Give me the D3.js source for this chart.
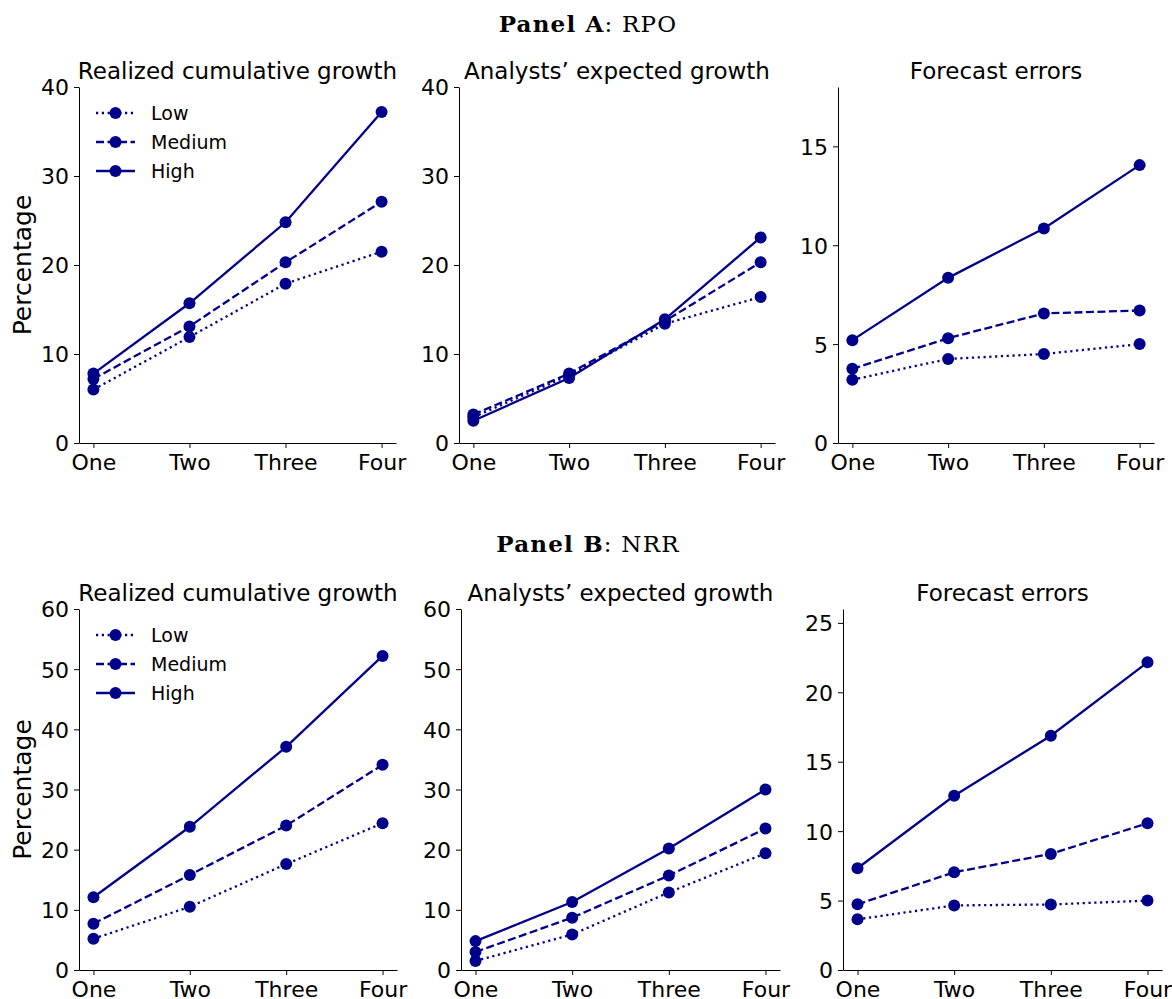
<!DOCTYPE html>
<html lang="en">
<head>
  <meta charset="UTF-8" />
  <title>RPO / NRR growth panels</title>
  <script src="https://d3js.org/d3.v7.min.js"></script>
  <style>
    body { margin: 0; background: #fff; font-family: "DejaVu Sans", sans-serif; }
    svg text { fill: #000; }
    .axis path, .axis line { stroke: #000; stroke-width: 1; }
    .axis text { font-size: 22px; font-family: "DejaVu Sans", sans-serif; }
    .title { font-size: 23px; }
    .panel { font-family: "DejaVu Serif", serif; font-size: 23px; letter-spacing: 1.2px; }
    .legend text { font-size: 19px; }
  </style>
</head>
<body>
<svg id="fig" width="1172" height="999"></svg>

<script>
const periods = ["One", "Two", "Three", "Four"];
const groups = ["Low", "Medium", "High"];
const subTitles = ["Realized cumulative growth", "Analysts\u2019 expected growth", "Forecast errors"];

// Panel A: RPO
const rpoRealizedLow = [6.0, 11.9, 17.9, 21.5];
const rpoRealizedMed = [7.2, 13.1, 20.3, 27.1];
const rpoRealizedHigh = [7.8, 15.7, 24.8, 37.2];
const rpoExpectedLow = [2.9, 7.6, 13.4, 16.4];
const rpoExpectedMed = [3.2, 7.8, 13.7, 20.3];
const rpoExpectedHigh = [2.5, 7.3, 13.9, 23.1];
const rpoErrorLow = [3.2, 4.25, 4.5, 5.0];
const rpoErrorMed = [3.75, 5.3, 6.55, 6.7];
const rpoErrorHigh = [5.2, 8.35, 10.85, 14.05];

// Panel B: NRR
const nrrRealizedLow = [5.2, 10.5, 17.6, 24.4];
const nrrRealizedMed = [7.7, 15.8, 24.0, 34.1];
const nrrRealizedHigh = [12.1, 23.8, 37.1, 52.2];
const nrrExpectedLow = [1.5, 5.9, 12.9, 19.4];
const nrrExpectedMed = [3.0, 8.7, 15.7, 23.5];
const nrrExpectedHigh = [4.8, 11.3, 20.2, 30.0];
const nrrErrorLow = [3.65, 4.65, 4.72, 5.0];
const nrrErrorMed = [4.73, 7.04, 8.36, 10.57];
const nrrErrorHigh = [7.33, 12.55, 16.87, 22.16];

const rpoMax = [40, 40, 18], rpoTicks = [[0, 10, 20, 30, 40], [0, 10, 20, 30, 40], [0, 5, 10, 15]];
const nrrMax = [60, 60, 26], nrrTicks = [[0, 10, 20, 30, 40, 50, 60], [0, 10, 20, 30, 40, 50, 60], [0, 5, 10, 15, 20, 25]];

const color = "#00008b";
const dashes = { Low: "2.2,3.6", Medium: "8,3.5", High: null };

const svg = d3.select("#fig");

// frame boxes of each subplot, read from the layout
const rows = [
  {
    head: ["Panel A", ": RPO"], headY: 32,
    top: 87, bottom: 443,
    lefts: [79, 459, 838], rights: [396, 775, 1154],
    series: [
      [rpoRealizedLow, rpoRealizedMed, rpoRealizedHigh],
      [rpoExpectedLow, rpoExpectedMed, rpoExpectedHigh],
      [rpoErrorLow, rpoErrorMed, rpoErrorHigh]
    ],
    max: rpoMax, ticks: rpoTicks
  },
  {
    head: ["Panel B", ": NRR"], headY: 552,
    top: 609, bottom: 970,
    lefts: [79, 461, 843], rights: [397, 780, 1162],
    series: [
      [nrrRealizedLow, nrrRealizedMed, nrrRealizedHigh],
      [nrrExpectedLow, nrrExpectedMed, nrrExpectedHigh],
      [nrrErrorLow, nrrErrorMed, nrrErrorHigh]
    ],
    max: nrrMax, ticks: nrrTicks
  }
];

rows.forEach(row => {
  const head = svg.append("text")
    .attr("class", "panel")
    .attr("x", 588)
    .attr("y", row.headY)
    .attr("text-anchor", "middle");
  head.append("tspan").attr("font-weight", "bold").text(row.head[0]);
  head.append("tspan").text(row.head[1]);

  row.series.forEach((sers, c) => {
    const x = d3.scalePoint()
      .domain(periods)
      .range([row.lefts[c], row.rights[c]])
      .padding(0.15);
    const y = d3.scaleLinear()
      .domain([0, row.max[c]])
      .range([row.bottom, row.top]);

    const g = svg.append("g");

    g.append("g")
      .attr("class", "axis")
      .attr("transform", `translate(0,${row.bottom})`)
      .call(d3.axisBottom(x).tickSize(5).tickPadding(5).tickSizeOuter(0))
      .call(a => a.selectAll("text").attr("dy", "0.75em"));

    g.append("g")
      .attr("class", "axis")
      .attr("transform", `translate(${row.lefts[c]},0)`)
      .call(d3.axisLeft(y).tickValues(row.ticks[c]).tickSize(5).tickPadding(5).tickSizeOuter(0))
      .call(a => a.selectAll("text").attr("dy", "0.36em"));

    g.append("text")
      .attr("class", "title")
      .attr("x", (row.lefts[c] + row.rights[c]) / 2)
      .attr("y", row.top - 8)
      .attr("text-anchor", "middle")
      .text(subTitles[c]);

    const line = d3.line()
      .x((d, i) => x(periods[i]))
      .y(d => y(d));

    sers.forEach((vals, k) => {
      g.append("path")
        .datum(vals)
        .attr("fill", "none")
        .attr("stroke", color)
        .attr("stroke-width", 2.3)
        .attr("stroke-dasharray", dashes[groups[k]])
        .attr("d", line);
      g.selectAll(null)
        .data(vals)
        .enter().append("circle")
        .attr("cx", (d, i) => x(periods[i]))
        .attr("cy", d => y(d))
        .attr("r", 6)
        .attr("fill", color);
    });

    if (c === 0) {
      g.append("text")
        .attr("transform", `translate(31,${(row.top + row.bottom) / 2}) rotate(-90)`)
        .attr("text-anchor", "middle")
        .attr("font-size", 25)
        .text("Percentage");

      const leg = g.append("g").attr("class", "legend");
      groups.forEach((name, k) => {
        const ly = row.top + 26 + k * 29;
        leg.append("line")
          .attr("x1", 96).attr("x2", 135)
          .attr("y1", ly).attr("y2", ly)
          .attr("stroke", color)
          .attr("stroke-width", 2.3)
          .attr("stroke-dasharray", dashes[name]);
        leg.append("circle")
          .attr("cx", 115.5).attr("cy", ly).attr("r", 6)
          .attr("fill", color);
        leg.append("text")
          .attr("x", 151)
          .attr("y", ly)
          .attr("dy", "0.36em")
          .text(name);
      });
    }
  });
});
</script>
</body>
</html>
